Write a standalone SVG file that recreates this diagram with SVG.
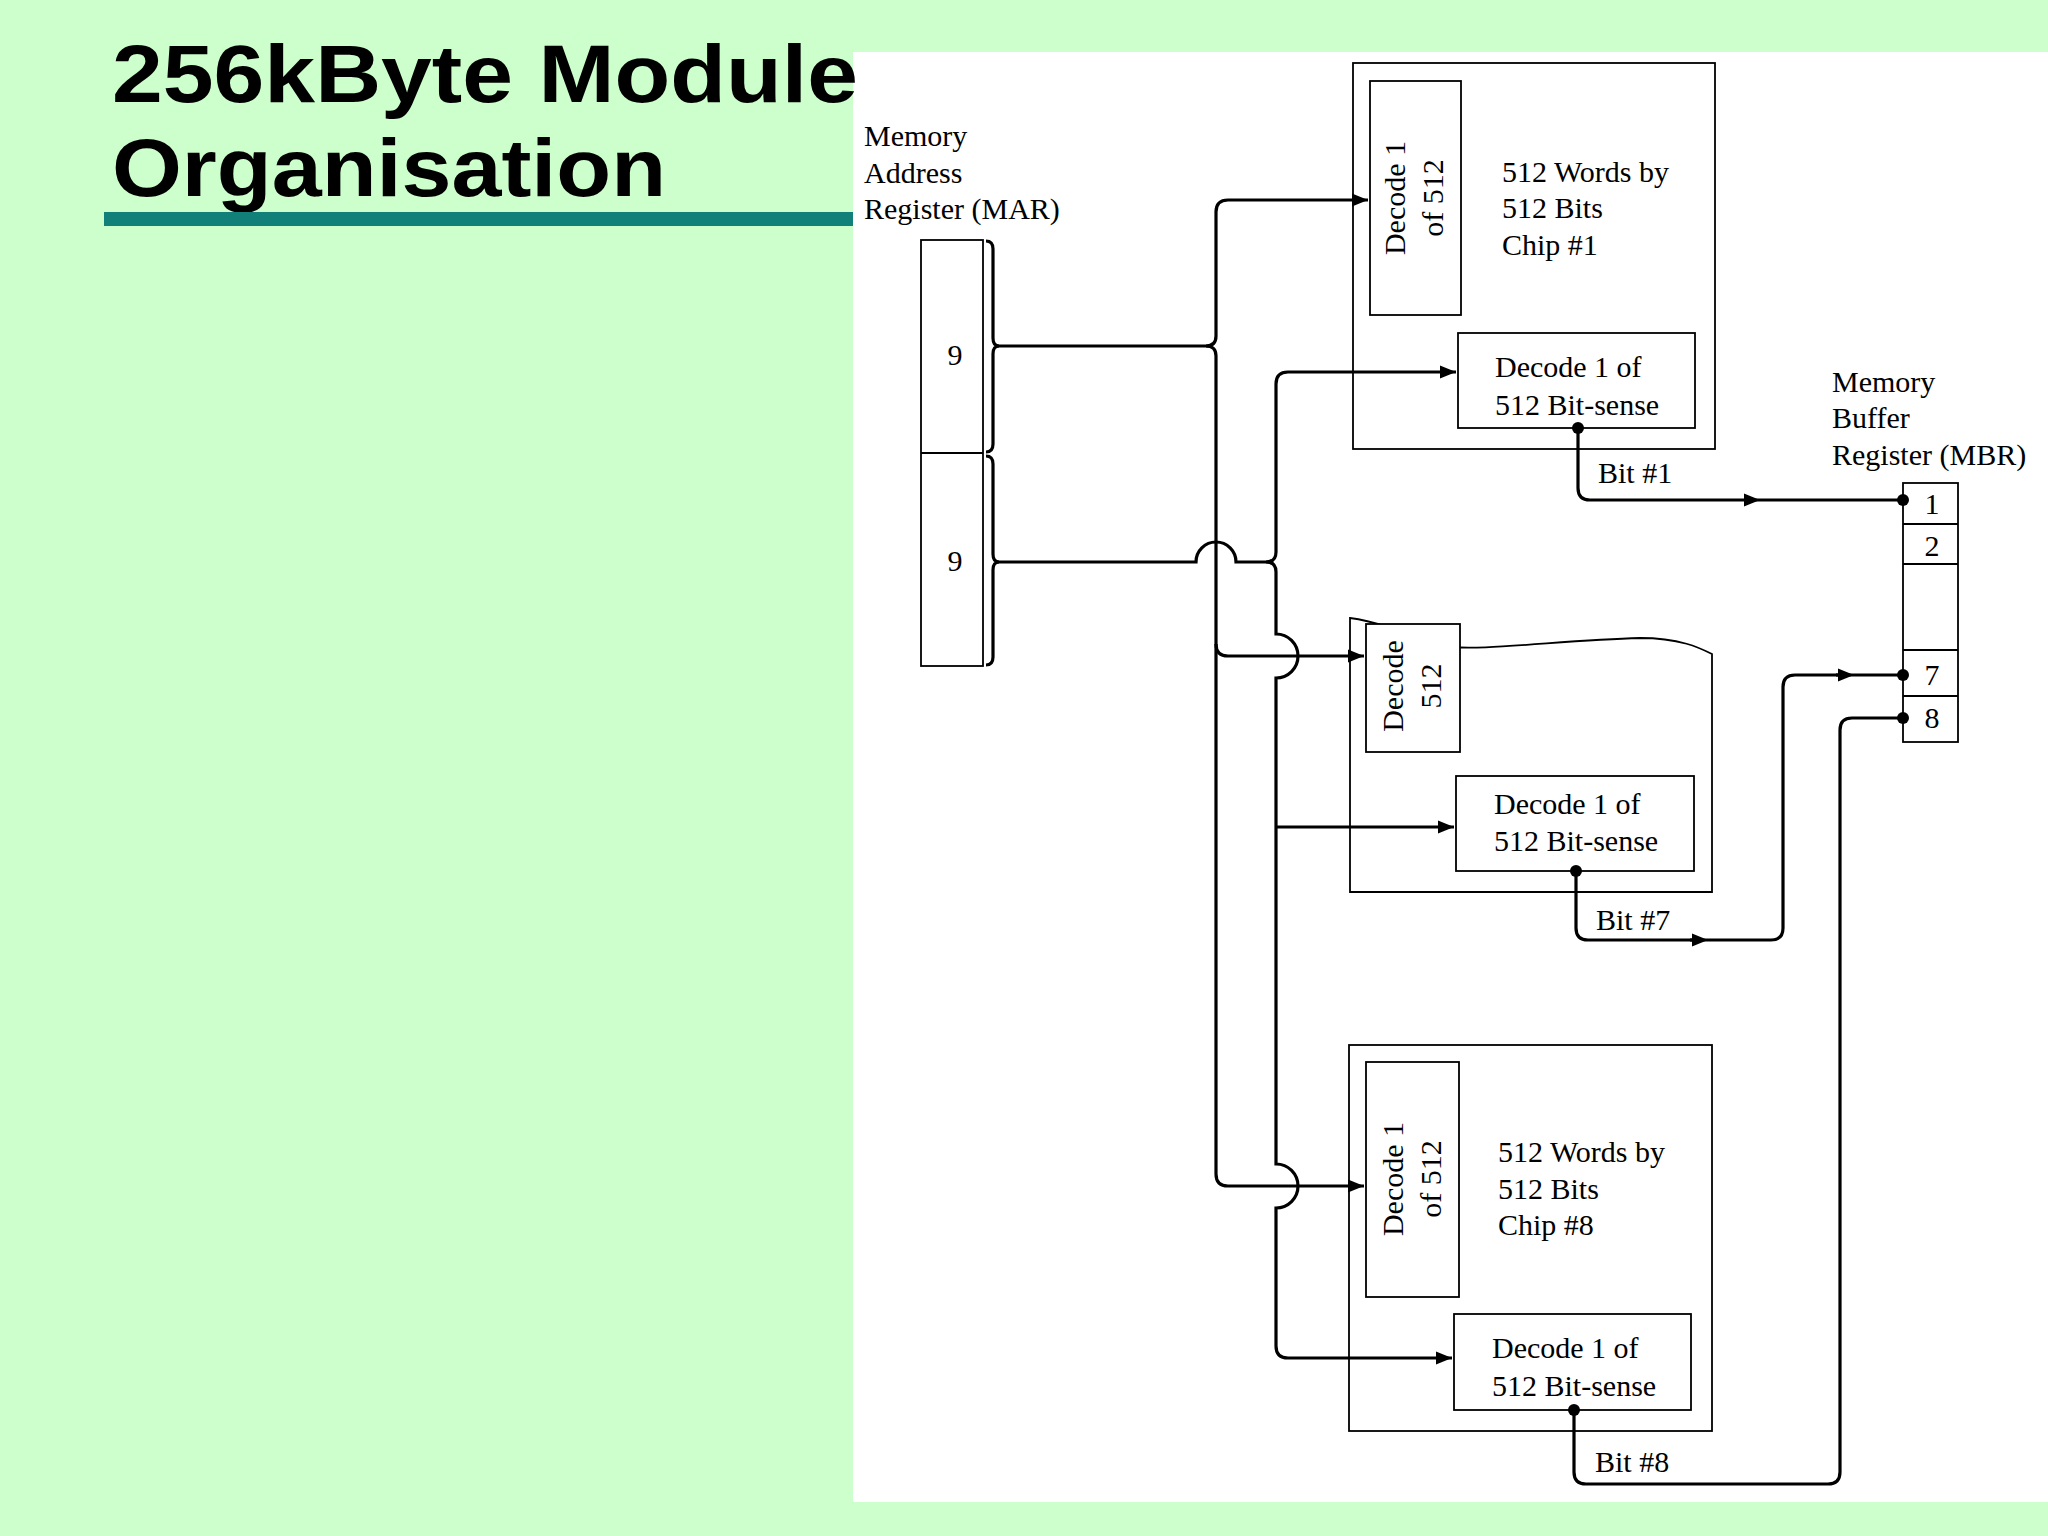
<svg xmlns="http://www.w3.org/2000/svg" width="2048" height="1536" viewBox="0 0 2048 1536">
<defs>
<marker id="ah" viewBox="0 0 10 10" refX="10" refY="5" markerWidth="5" markerHeight="5" orient="auto" markerUnits="strokeWidth"><path d="M0,1 L10,5 L0,9 z" fill="#000"/></marker>
<marker id="mid" viewBox="0 0 10 10" refX="5" refY="5" markerWidth="5" markerHeight="5" orient="auto" markerUnits="strokeWidth"><path d="M0,1 L10,5 L0,9 z" fill="#000"/></marker>
<style>
.box{fill:#fff;stroke:#000;stroke-width:1.8}
.w{fill:none;stroke:#000;stroke-width:3.2}
.t{font-family:"Liberation Serif",serif;font-size:30px;fill:#000}
.ttl{font-family:"Liberation Sans",Arial,sans-serif;font-weight:900;font-size:82px;fill:#000}
</style>
</defs>
<rect width="2048" height="1536" fill="#ccffcc"/>
<rect x="853" y="52" width="1195" height="1450" fill="#fff"/>
<text class="ttl" x="112" y="102" textLength="746" lengthAdjust="spacingAndGlyphs">256kByte Module</text>
<text class="ttl" x="112" y="196" textLength="554" lengthAdjust="spacingAndGlyphs">Organisation</text>
<rect x="104" y="212" width="749" height="14" fill="#108078"/>

<g id="mar">
<text class="t" x="864" y="146">Memory</text>
<text class="t" x="864" y="183">Address</text>
<text class="t" x="864" y="219">Register (MAR)</text>
<rect class="box" x="921" y="240" width="62" height="426"/>
<line x1="921" y1="453" x2="983" y2="453" stroke="#000" stroke-width="1.8"/>
<text class="t" x="955" y="365" text-anchor="middle">9</text>
<text class="t" x="955" y="571" text-anchor="middle">9</text>
<path class="w" stroke-width="2.6" d="M986,241 q7,0 7,8 V338 q0,8 6,8 q-6,0 -6,8 V444 q0,8 -7,8 M986,456 q7,0 7,8 V554 q0,8 6,8 q-6,0 -6,8 V657 q0,8 -7,8"/>
</g>

<g id="chip1">
<rect class="box" x="1353" y="63" width="362" height="386"/>
<rect class="box" x="1370" y="81" width="91" height="234"/>
<text class="t" transform="translate(1405,198) rotate(-90)" text-anchor="middle">Decode 1</text>
<text class="t" transform="translate(1443,198) rotate(-90)" text-anchor="middle">of 512</text>
<text class="t" x="1502" y="182">512 Words by</text>
<text class="t" x="1502" y="218">512 Bits</text>
<text class="t" x="1502" y="255">Chip #1</text>
<rect class="box" x="1458" y="333" width="237" height="95"/>
<text class="t" x="1495" y="377">Decode 1 of</text>
<text class="t" x="1495" y="415">512 Bit-sense</text>
</g>

<g id="chip7">
<path class="box" d="M1350,618 C1380,622 1410,635 1440,646 C1480,652 1560,640 1640,638 C1680,638 1700,648 1712,654 V892 H1350 Z"/>
<rect class="box" x="1366" y="624" width="94" height="128"/>
<text class="t" transform="translate(1403,686) rotate(-90)" text-anchor="middle">Decode</text>
<text class="t" transform="translate(1441,686) rotate(-90)" text-anchor="middle">512</text>
<rect class="box" x="1456" y="776" width="238" height="95"/>
<text class="t" x="1494" y="814">Decode 1 of</text>
<text class="t" x="1494" y="851">512 Bit-sense</text>
</g>

<g id="chip8">
<rect class="box" x="1349" y="1045" width="363" height="386"/>
<rect class="box" x="1366" y="1062" width="93" height="235"/>
<text class="t" transform="translate(1403,1179) rotate(-90)" text-anchor="middle">Decode 1</text>
<text class="t" transform="translate(1441,1179) rotate(-90)" text-anchor="middle">of 512</text>
<text class="t" x="1498" y="1162">512 Words by</text>
<text class="t" x="1498" y="1199">512 Bits</text>
<text class="t" x="1498" y="1235">Chip #8</text>
<rect class="box" x="1454" y="1314" width="237" height="96"/>
<text class="t" x="1492" y="1358">Decode 1 of</text>
<text class="t" x="1492" y="1396">512 Bit-sense</text>
</g>

<g id="mbr">
<text class="t" x="1832" y="392">Memory</text>
<text class="t" x="1832" y="428">Buffer</text>
<text class="t" x="1832" y="465">Register (MBR)</text>
<rect class="box" x="1903" y="483" width="55" height="259"/>
<line x1="1903" y1="524" x2="1958" y2="524" stroke="#000" stroke-width="1.8"/>
<line x1="1903" y1="564" x2="1958" y2="564" stroke="#000" stroke-width="1.8"/>
<line x1="1903" y1="650" x2="1958" y2="650" stroke="#000" stroke-width="1.8"/>
<line x1="1903" y1="696" x2="1958" y2="696" stroke="#000" stroke-width="1.8"/>
<text class="t" x="1932" y="514" text-anchor="middle">1</text>
<text class="t" x="1932" y="556" text-anchor="middle">2</text>
<text class="t" x="1932" y="685" text-anchor="middle">7</text>
<text class="t" x="1932" y="728" text-anchor="middle">8</text>
</g>

<g id="connectors">
<!-- bus A -->
<path class="w" d="M997,346 H1206 q10,0 10,-10 V212 q0,-12 12,-12 H1368" marker-end="url(#ah)"/>
<path class="w" d="M1206,346 q10,0 10,10 V1174 q0,12 12,12 H1364" marker-end="url(#ah)"/>
<path class="w" d="M1216,644 q0,12 12,12 H1364" marker-end="url(#ah)"/>
<!-- bus B -->
<path class="w" d="M997,562 H1196 a20,20 0 0 1 40,0 H1266 q10,0 10,-10 V384 q0,-12 12,-12 H1456" marker-end="url(#ah)"/>
<path class="w" d="M1266,562 q10,0 10,10 V634 a22,22 0 0 1 0,44 V1164 a22,22 0 0 1 0,44 V1346 q0,12 12,12 H1452" marker-end="url(#ah)"/>
<path class="w" d="M1276,827 H1454" marker-end="url(#ah)"/>
<!-- outputs -->
<path class="w" d="M1578,428 V488 q0,12 12,12 H1903"/>
<path class="w" d="M1744,500 H1752" marker-end="url(#mid)"/>
<path class="w" d="M1576,871 V928 q0,12 12,12 H1771 q12,0 12,-12 V687 q0,-12 12,-12 H1903"/>
<path class="w" d="M1690,940 H1700" marker-end="url(#mid)"/>
<path class="w" d="M1836,675 H1846" marker-end="url(#mid)"/>
<path class="w" d="M1574,1410 V1472 q0,12 12,12 H1828 q12,0 12,-12 V730 q0,-12 12,-12 H1903"/>
<circle cx="1578" cy="428" r="6"/><circle cx="1576" cy="871" r="6"/><circle cx="1574" cy="1410" r="6"/>
<circle cx="1903" cy="500" r="6"/><circle cx="1903" cy="675" r="6"/><circle cx="1903" cy="718" r="6"/>
<text class="t" x="1598" y="483">Bit #1</text>
<text class="t" x="1596" y="930">Bit #7</text>
<text class="t" x="1595" y="1472">Bit #8</text>
</g>
</svg>
